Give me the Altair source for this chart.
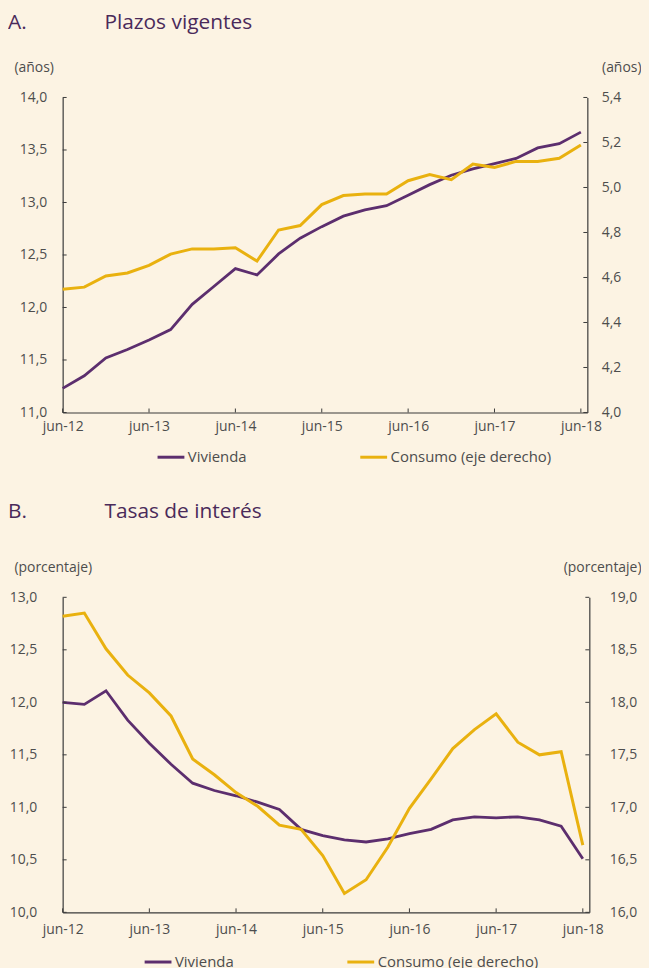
import altair as alt
import pandas as pd

FONT = "Open Sans"
BG = "#fcf3e3"
PURPLE = "#5c2e6e"
YELLOW = "#e9b10f"
TITLE_COLOR = "#4a2a5a"
AXIS_COLOR = "#3a3a3a"
LABEL_COLOR = "#4d4d4d"

# quarterly observations jun-12 ... jun-18 (25 points)
quarters = list(range(25))
tick_quarters = [0, 4, 8, 12, 16, 20, 24]
tick_labels = ["jun-12", "jun-13", "jun-14", "jun-15", "jun-16", "jun-17", "jun-18"]
series_names = ["Vivienda", "Consumo (eje derecho)"]

# Panel A: Plazos vigentes (años)
plazo_vivienda = [11.23, 11.35, 11.52, 11.60, 11.69, 11.79, 12.03, 12.20, 12.37, 12.31,
                  12.51, 12.66, 12.77, 12.87, 12.93, 12.97, 13.07, 13.17, 13.26, 13.32,
                  13.37, 13.42, 13.52, 13.56, 13.67]
plazo_consumo = [4.548, 4.557, 4.607, 4.620, 4.654, 4.704, 4.727, 4.727, 4.732, 4.673,
                 4.811, 4.831, 4.924, 4.964, 4.971, 4.971, 5.030, 5.057, 5.035, 5.104,
                 5.089, 5.116, 5.116, 5.130, 5.189]
a_left_ticks = [11.0, 11.5, 12.0, 12.5, 13.0, 13.5, 14.0]
a_right_ticks = [4.0, 4.2, 4.4, 4.6, 4.8, 5.0, 5.2, 5.4]

# Panel B: Tasas de interés (porcentaje)
tasa_vivienda = [12.00, 11.98, 12.11, 11.83, 11.61, 11.41, 11.23, 11.16, 11.11, 11.05,
                 10.98, 10.79, 10.73, 10.69, 10.67, 10.70, 10.75, 10.79, 10.88, 10.91,
                 10.90, 10.91, 10.88, 10.82, 10.51]
tasa_consumo = [18.82, 18.85, 18.51, 18.26, 18.09, 17.87, 17.46, 17.31, 17.14, 17.01,
                16.83, 16.79, 16.54, 16.18, 16.31, 16.62, 16.99, 17.27, 17.56, 17.74,
                17.89, 17.62, 17.50, 17.53, 16.64]
b_left_ticks = [10.0, 10.5, 11.0, 11.5, 12.0, 12.5, 13.0]
b_right_ticks = [16.0, 16.5, 17.0, 17.5, 18.0, 18.5, 19.0]

LABEL_EXPR_X = "[" + ",".join("'%s'" % t for t in tick_labels) + "][round(datum.value/4)]"
LABEL_EXPR_Y = "replace(format(datum.value, '.1f'), '.', ',')"


def panel(letter, title, viv, con, lticks, rticks, unit, w, h,
          lpad, rpad, xpad, ltx, rtx, letter_x, title_x, title_y, leg_x, leg_y):
    df = pd.DataFrame({"q": quarters, "viv": viv, "con": con,
                       "s1": [series_names[0]] * len(quarters),
                       "s2": [series_names[1]] * len(quarters)})
    xscale = alt.Scale(domain=[0, 24.3], nice=False, zero=False)
    lscale = alt.Scale(domain=[lticks[0], lticks[-1]], nice=False, zero=False)
    rscale = alt.Scale(domain=[rticks[0], rticks[-1]], nice=False, zero=False)
    cscale = alt.Scale(domain=series_names, range=[PURPLE, YELLOW])
    legend = alt.Legend(orient="none", legendX=leg_x, legendY=leg_y, direction="horizontal",
                        title=None, symbolType="stroke", symbolStrokeWidth=3, symbolSize=729,
                        labelFontSize=15, labelFont=FONT, labelColor=LABEL_COLOR,
                        labelOffset=2, labelLimit=400, columnPadding=107, padding=0)
    xaxis = alt.Axis(values=tick_quarters, labelExpr=LABEL_EXPR_X, title=None, grid=False,
                     ticks=False, tickSize=0, labelFlush=False, labelPadding=xpad,
                     labelFontSize=14, labelFont=FONT, labelColor=LABEL_COLOR,
                     domainColor=AXIS_COLOR, domainWidth=1.2)
    common_y = dict(labelExpr=LABEL_EXPR_Y, title=unit, titleAngle=0, titleBaseline="middle",
                    titleY=-30, titleFont=FONT, titleFontSize=14, titleFontWeight="normal",
                    titleColor=LABEL_COLOR, grid=False, ticks=False, tickSize=0,
                    labelFontSize=14, labelFont=FONT, labelColor=LABEL_COLOR,
                    domainColor=AXIS_COLOR, domainWidth=1.2)
    laxis = alt.Axis(values=lticks, orient="left", titleAlign="left", titleX=ltx,
                     labelPadding=lpad, **common_y)
    raxis = alt.Axis(values=rticks, orient="right", titleAlign="right", titleX=rtx,
                     labelPadding=rpad, **common_y)

    base = alt.Chart(df)
    viv_line = base.mark_line(strokeWidth=2.8, clip=False).encode(
        x=alt.X("q:Q", scale=xscale, axis=xaxis),
        y=alt.Y("viv:Q", scale=lscale, axis=laxis),
        color=alt.Color("s1:N", scale=cscale, legend=legend),
    )
    con_line = base.mark_line(strokeWidth=3, clip=False).encode(
        x=alt.X("q:Q", scale=xscale, axis=xaxis),
        y=alt.Y("con:Q", scale=rscale, axis=raxis),
        color=alt.Color("s2:N", scale=cscale, legend=legend),
    )
    # inward tick marks at the axis values
    lt = alt.Chart(pd.DataFrame({"v": lticks})).mark_rule(color=AXIS_COLOR, strokeWidth=1).encode(
        y=alt.Y("v:Q", scale=lscale, axis=laxis), x=alt.value(0), x2=alt.value(4))
    rt = alt.Chart(pd.DataFrame({"v": rticks})).mark_rule(color=AXIS_COLOR, strokeWidth=1).encode(
        y=alt.Y("v:Q", scale=rscale, axis=raxis), x=alt.value(w - 4), x2=alt.value(w))
    xt = alt.Chart(pd.DataFrame({"q": tick_quarters})).mark_rule(color=AXIS_COLOR, strokeWidth=1).encode(
        x=alt.X("q:Q", scale=xscale, axis=xaxis), y=alt.value(h - 4), y2=alt.value(h))
    t_letter = alt.Chart(pd.DataFrame({"s": [letter]})).mark_text(
        align="left", baseline="middle", fontSize=21, font=FONT, color=TITLE_COLOR).encode(
        text="s:N", x=alt.value(letter_x), y=alt.value(title_y))
    t_title = alt.Chart(pd.DataFrame({"s": [title]})).mark_text(
        align="left", baseline="middle", fontSize=21, font=FONT, color=TITLE_COLOR).encode(
        text="s:N", x=alt.value(title_x), y=alt.value(title_y))

    left = alt.layer(viv_line, lt, xt, t_letter, t_title)
    right = alt.layer(con_line, rt)
    return alt.layer(left, right).resolve_scale(y="independent").properties(width=w, height=h)


top = panel("A.", "Plazos vigentes", plazo_vivienda, plazo_consumo, a_left_ticks, a_right_ticks,
            "(años)", 528, 317, 16, 14, 7, -49, 54, -55, 42, -75, 94, 347)
bottom = panel("B.", "Tasas de interés", tasa_vivienda, tasa_consumo, b_left_ticks, b_right_ticks,
               "(porcentaje)", 530, 317, 26, 20, 10, -49, 52, -55, 42, -86, 81, 352)

chart = alt.vconcat(top, bottom, spacing=36).resolve_scale(color="independent").properties(
    padding={"top": 1, "left": 0, "right": 0, "bottom": 0}, background=BG
).configure_view(stroke=None)

chart.save("out.html", embed_options={"renderer": "svg", "actions": False,
                                      "defaultStyle": "body{background:#fcf3e3;}"})
